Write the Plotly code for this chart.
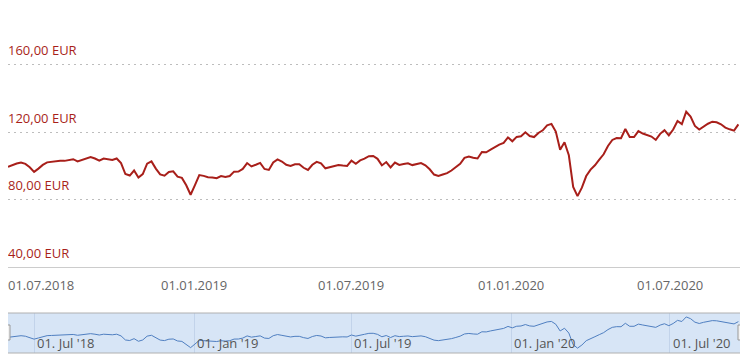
import pandas as pd
import plotly.graph_objects as go

# ---- data ----
start_date = "2018-06-01"
step_days = 5
prices = [
    99.3, 100.4, 101.3, 101.9, 101.1, 99.1, 96.4, 98.3, 100.5, 102.0,
    102.3, 102.8, 103.0, 102.9, 103.3, 103.9, 102.6, 103.5, 104.2, 105.2,
    104.3, 103.0, 104.3, 103.9, 103.4, 104.3, 101.6, 95.1, 94.2, 97.2,
    93.0, 95.1, 101.2, 102.6, 98.3, 94.9, 94.1, 96.3, 96.7, 93.5,
    92.8, 88.4, 82.8, 88.5, 94.5, 94.0, 93.2, 93.0, 92.6, 93.9,
    93.3, 93.9, 96.5, 96.6, 98.1, 101.6, 99.6, 100.6, 101.7, 98.1,
    97.5, 101.9, 103.8, 102.5, 100.6, 99.9, 100.9, 100.9, 98.8, 97.5,
    100.6, 102.3, 101.4, 98.5, 99.1, 99.6, 100.4, 100.1, 99.9, 103.0,
    101.2, 103.2, 104.2, 105.7, 105.8, 104.1, 100.2, 102.2, 99.0, 101.9,
    100.5, 101.0, 101.5, 100.4, 100.9, 101.6, 100.3, 97.9, 94.8, 94.0,
    94.8, 95.6, 97.2, 99.1, 101.2, 104.7, 105.5, 104.7, 104.3, 108.2,
    108.0, 109.6, 111.3, 112.5, 113.6, 116.8, 114.5, 117.1, 117.5, 119.8,
    117.6, 117.0, 119.4, 121.0, 124.0, 124.8, 120.3, 109.5, 113.9, 106.2,
    87.5, 82.0, 87.0, 93.9, 97.7, 100.3, 103.6, 106.8, 111.7, 115.3,
    116.4, 116.3, 121.8, 117.0, 117.0, 120.5, 119.1, 118.1, 117.3, 115.3,
    118.9, 121.1, 118.0, 121.5, 126.5, 124.7, 132.0, 129.2, 123.6, 121.5,
    123.4, 124.9, 126.1, 125.8, 124.6, 122.6, 121.6, 120.8, 124.5,
]
dates = pd.date_range(start_date, periods=len(prices), freq=f"{step_days}D")

x_range = ["2018-06-01", "2020-09-21"]
x_ticks = ["2018-07-01", "2019-01-01", "2019-07-01", "2020-01-01", "2020-07-01"]
y_ticks = [40, 80, 120, 160]
y_range = [40, 192.3]
nav_y_range = [74.2, 138.3]

RED = "#a81f1a"
FONT = "Open Sans"
MAIN_BOTTOM = 0.2507

def eur(v):
    return f"{v:.2f}".replace(".", ",") + " EUR"

fig = go.Figure()
fig.add_trace(go.Scatter(x=dates, y=prices, mode="lines",
                         line=dict(color=RED, width=2),
                         xaxis="x", yaxis="y", hoverinfo="skip"))
fig.add_trace(go.Scatter(x=dates, y=prices, mode="lines",
                         line=dict(color="#4f7fc1", width=1),
                         xaxis="x2", yaxis="y2", hoverinfo="skip"))

fig.update_layout(
    width=740, height=356,
    margin=dict(l=0, r=7, t=2, b=11),
    paper_bgcolor="white", plot_bgcolor="rgba(0,0,0,0)",
    showlegend=False,
    separators=",.",
    font=dict(family=FONT, size=13, color="#666666"),
    xaxis=dict(domain=[0, 1], anchor="y", type="date", range=x_range,
               tickvals=x_ticks, showticklabels=False,
               showgrid=False, zeroline=False,
               showline=True, linecolor="#cccccc", linewidth=1, ticks=""),
    yaxis=dict(domain=[MAIN_BOTTOM, 1], anchor="x", range=y_range,
               tickvals=y_ticks, showticklabels=False,
               showgrid=True, gridcolor="#bdbdbd", griddash="2px,4px", gridwidth=1,
               zeroline=False, showline=False, ticks=""),
    xaxis2=dict(domain=[0, 1], anchor="y2", type="date", range=x_range,
                tickvals=x_ticks, showticklabels=False,
                showgrid=True, gridcolor="#c2d3ea", gridwidth=1,
                zeroline=False, showline=False, ticks=""),
    yaxis2=dict(domain=[0, 0.1166], anchor="x2", range=nav_y_range,
                visible=False, showgrid=False, zeroline=False),
)

annotations = []
for v in y_ticks:
    annotations.append(dict(xref="paper", yref="y", x=0, y=v, xanchor="left",
                            yanchor="middle", yshift=14.5, xshift=-2, showarrow=False,
                            text=eur(v), font=dict(family=FONT, size=13, color=RED)))
for i, d in enumerate(x_ticks):
    label = pd.Timestamp(d).strftime("%d.%m.%Y")
    if i == 0:
        # first label would run past the left edge; keep it fully visible
        annotations.append(dict(xref="paper", yref="paper", x=0, y=MAIN_BOTTOM,
                                xanchor="left", yanchor="middle", yshift=-18, xshift=-2,
                                showarrow=False, text=label,
                                font=dict(family=FONT, size=13, color="#666666")))
    else:
        annotations.append(dict(xref="x", yref="paper", x=d, y=MAIN_BOTTOM,
                                xanchor="center", yanchor="middle", yshift=-18,
                                showarrow=False, text=label,
                                font=dict(family=FONT, size=13, color="#666666")))
    # navigator labels
    nav_label = pd.Timestamp(d).strftime("%d. %b '%y")
    annotations.append(dict(xref="x2", yref="y2 domain", x=d, y=0,
                            xanchor="left", yanchor="middle", yshift=10, xshift=1,
                            showarrow=False, text=nav_label,
                            font=dict(family=FONT, size=13, color="#555555")))

shapes = [
    dict(type="rect", xref="x2 domain", yref="y2 domain", x0=0, x1=1, y0=0, y1=1,
         fillcolor="#d7e5f6", line=dict(width=0), layer="below"),
    dict(type="line", xref="x2 domain", yref="y2 domain", x0=0, x1=1, y0=1, y1=1,
         line=dict(color="#b0b0b0", width=1)),
    dict(type="line", xref="x2 domain", yref="y2 domain", x0=0, x1=1, y0=0, y1=0,
         line=dict(color="#b0b0b0", width=1)),
]
for anchor in (0, 1):
    shapes.append(dict(type="rect", xref="x2 domain", yref="y2 domain",
                       xsizemode="pixel", xanchor=anchor, x0=-3, x1=2,
                       ysizemode="pixel", yanchor=0.5, y0=-7, y1=8,
                       fillcolor="#f2f2f2", line=dict(color="#999999", width=1)))
fig.update_layout(shapes=shapes, annotations=annotations)

fig.write_html("out.html")
